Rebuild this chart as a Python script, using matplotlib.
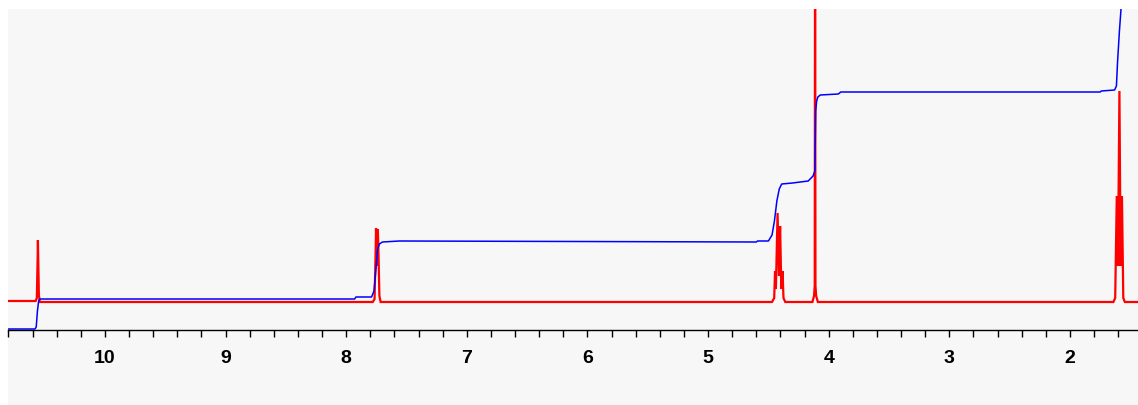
import matplotlib
matplotlib.use("Agg")
import matplotlib.pyplot as plt
from matplotlib.patches import Rectangle
from matplotlib.ticker import MultipleLocator

# ---- data (chemical shift in ppm, intensity in arbitrary units) ----
spec_ppm = [10.804, 10.575, 10.565, 10.558, 10.556, 10.553, 10.548, 10.54,
            7.78, 7.765, 7.756, 7.753, 7.746, 7.738, 7.734, 7.725, 7.715,
            4.47, 4.452, 4.445, 4.438, 4.424, 4.413, 4.403, 4.393, 4.383, 4.375, 4.36,
            4.135, 4.122, 4.116, 4.113, 4.110, 4.104, 4.09,
            1.64, 1.625, 1.612, 1.602, 1.590, 1.580, 1.569, 1.558, 1.545, 1.436]
spec_int = [0, 0, 3, 45, 61, 40, 6, -1,
            -1, 2, 50, 73, 35, 72, 55, 5, -1,
            -1, 3, 30, 12, 88, 25, 75, 12, 30, 3, -1,
            -1, 5, 15, 400, 15, 5, -1,
            -1, 3, 105, 35, 210, 35, 105, 3, -1, -1]

integ_ppm = [10.804, 10.58, 10.57, 10.56, 10.55, 10.54, 7.93, 7.92, 7.79, 7.77,
             7.755, 7.74, 7.725, 7.70, 7.56, 4.60, 4.59, 4.50, 4.47, 4.45, 4.43,
             4.41, 4.39, 4.30, 4.17, 4.13, 4.115, 4.108, 4.10, 4.09, 4.07, 3.92,
             3.90, 1.75, 1.74, 1.63, 1.615, 1.605, 1.59, 1.575, 1.56]
integ_val = [-28, -28, -26, -10, 0, 2, 2, 4, 4, 10,
             30, 52, 57, 59, 60, 59, 60, 60, 66, 80, 100,
             112, 117, 118, 120, 125, 130, 190, 200, 204, 206, 207,
             209, 209, 210, 211, 215, 240, 270, 295, 320]

major_ticks = [10, 9, 8, 7, 6, 5, 4, 3, 2]

# ---- figure ----
W, H = 1138, 406
fig = plt.figure(figsize=(W / 100, H / 100), dpi=100, facecolor="white")
bg = Rectangle((8 / W, 0), 1, (H - 10) / H, transform=fig.transFigure,
               facecolor="#f7f7f7", edgecolor="none", zorder=-10)
fig.patches.append(bg)
ax = fig.add_axes([8 / W, (H - 331) / H, (W - 8) / W, 321 / H])
ax.set_zorder(5)
ax.set_facecolor("#f7f7f7")

ax.plot(spec_ppm, spec_int, color="#ff0000", lw=1.6, solid_joinstyle="miter")
ax.plot(integ_ppm, integ_val, color="#0000ff", lw=1.1)

ax.set_xlim(10.804, 1.436)
ax.set_ylim(-29, 292)

for s in ["left", "top", "right"]:
    ax.spines[s].set_visible(False)
ax.spines["bottom"].set_linewidth(1.0)
ax.set_yticks([])
ax.set_xticks(major_ticks)
ax.xaxis.set_minor_locator(MultipleLocator(0.2))
ax.tick_params(axis="x", which="both", direction="out", length=5, width=1, color="black")
ax.tick_params(axis="x", which="major", pad=9)
for lab in ax.get_xticklabels():
    lab.set_fontfamily("Liberation Sans")
    lab.set_fontweight("bold")
    lab.set_fontsize(14)

fig.savefig("out.png", dpi=100, facecolor="white")
